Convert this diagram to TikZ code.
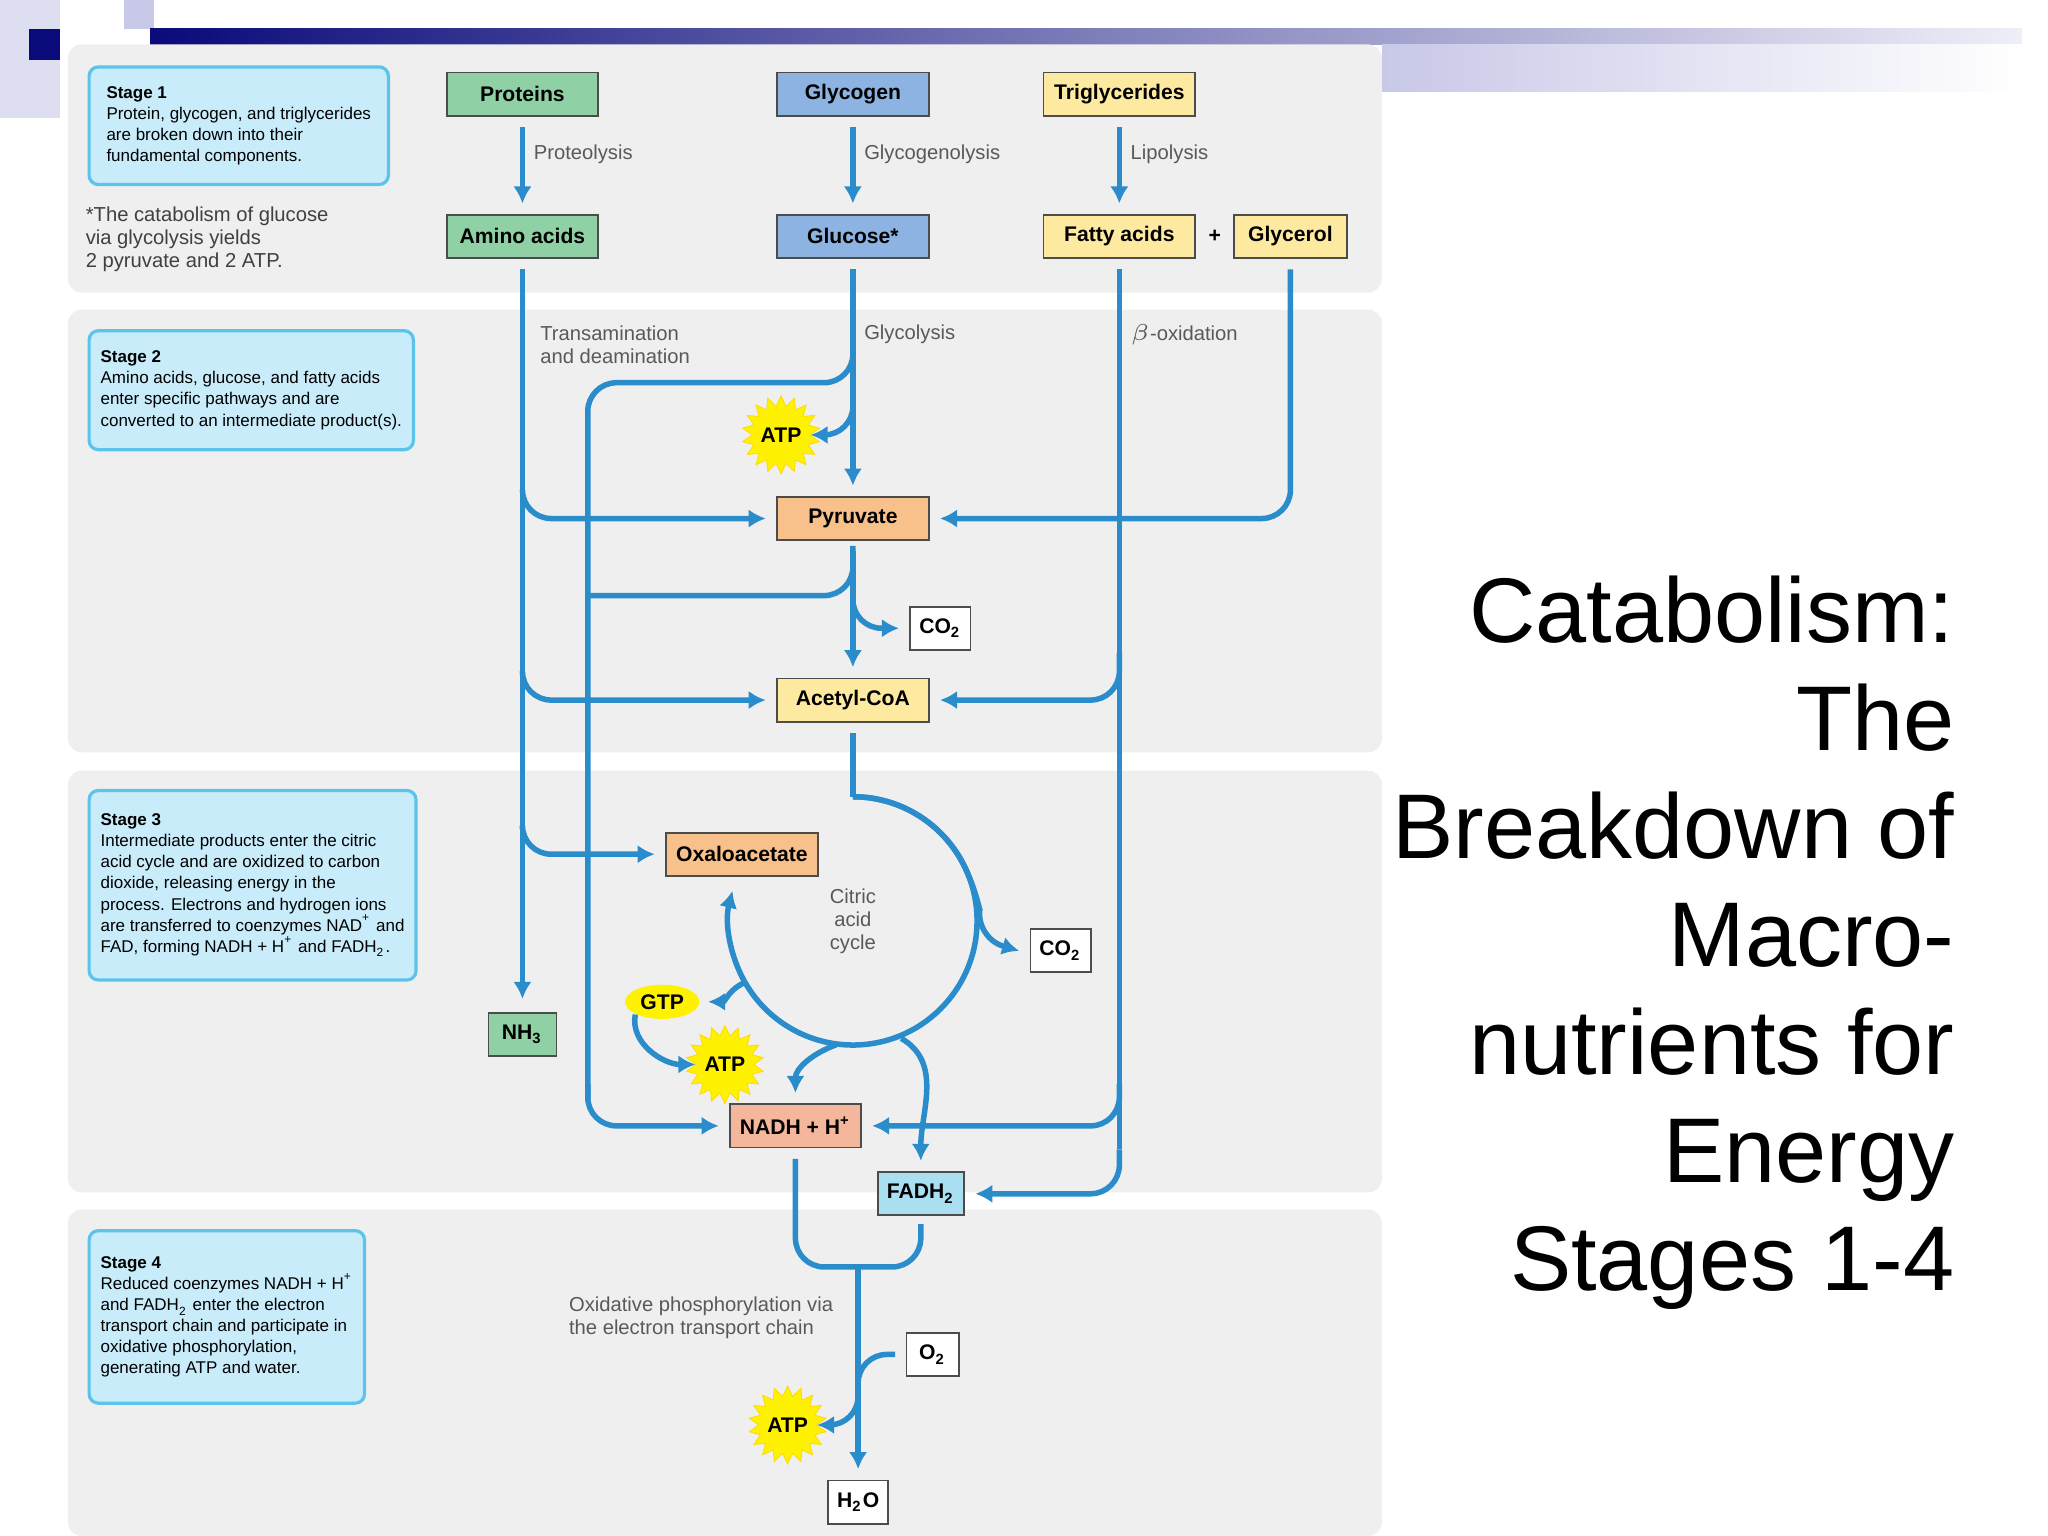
\documentclass[tikz,border=0pt]{standalone}
\usepackage{fontspec}
\setmainfont{Liberation Sans}
\usetikzlibrary{positioning, arrows.meta, shapes.geometric}
\definecolor{flow}{HTML}{2A8CCB}
\definecolor{panel}{HTML}{EFEFEF}
\definecolor{stagefill}{HTML}{C9ECFA}
\definecolor{stageline}{HTML}{5CC3EA}
\definecolor{greenbox}{HTML}{8FD1A5}
\definecolor{bluebox}{HTML}{8DB3E2}
\definecolor{yellowbox}{HTML}{FDE9A0}
\definecolor{orangebox}{HTML}{F8C08A}
\definecolor{salmonbox}{HTML}{F4B79B}
\definecolor{cyanbox}{HTML}{A9DFF0}
\definecolor{navy}{HTML}{0A0A7A}
\definecolor{lavender}{HTML}{C8C8E8}

\begin{document}
\begin{tikzpicture}[
		x=0.01cm, y=-0.01cm,
		>={Latex[length=1.3mm,width=1.4mm]}
		]
		\tikzstyle{arr}=[
			->,
			draw=flow,
			line width=1.2pt,
			rounded corners=0.22cm
		]
		\tikzstyle{line}=[
			draw=flow,
			line width=1.2pt,
			rounded corners=0.22cm
		]
		\tikzstyle{mol}=[
			rectangle,
			draw=black!70,
			line width=0.4pt,
			font=\fontsize{4.6}{5}\selectfont\bfseries,
			minimum height=0.33cm,
			inner sep=1pt
		]
		\tikzstyle{stage}=[
			rectangle,
			rounded corners=2pt,
			draw=stageline,
			line width=0.7pt,
			fill=stagefill,
			align=left,
			anchor=north west,
			font=\fontsize{3.7}{4.6}\selectfont,
			inner sep=2.5pt
		]
		\tikzstyle{note}=[
			font=\fontsize{4.4}{5}\selectfont,
			text=black!65,
			align=left,
			anchor=west,
			inner sep=0pt
		]
		\tikzstyle{atp}=[
			star,
			star points=18,
			star point ratio=1.35,
			fill=yellow,
			draw=yellow!80!orange,
			line width=0.2pt,
			minimum size=0.5cm,
			inner sep=0pt,
			font=\fontsize{4.6}{5}\selectfont\bfseries
		]
		\useasboundingbox (0,0) rectangle (1568,1176);
		% Slide decoration
			\fill[lavender!60] (0,0) rectangle (46,90);
			\fill[lavender] (95,0) rectangle (118,22);
			\fill[navy] (22,22) rectangle (46,46);
			\shade[left color=navy, right color=lavender!30] (115,22) rectangle (1548,34);
			\shade[left color=lavender, right color=white] (1058,34) rectangle (1548,70);
		% Panels
			\foreach \top / \bot in {34/224, 237/576, 590/913, 926/1176}
				\fill[panel, rounded corners=3pt] (52,\top) rectangle (1058,\bot);
		% Stage descriptions
			\node[stage, minimum width=2.29cm, minimum height=0.9cm] (S1) at (67,50) {{\bfseries Stage 1}\\Protein, glycogen, and triglycerides\\are broken down into their\\fundamental components.};
			\node[stage, minimum width=2.42cm, minimum height=0.91cm] (S2) at (67,252) {{\bfseries Stage 2}\\Amino acids, glucose, and fatty acids\\enter specific pathways and are\\converted to an intermediate product(s).};
			\node[stage, minimum width=2.39cm, minimum height=1.45cm] (S3) at (67,604) {{\bfseries Stage 3}\\Intermediate products enter the citric\\acid cycle and are oxidized to carbon\\dioxide, releasing energy in the\\process. Electrons and hydrogen ions\\are transferred to coenzymes NAD\textsuperscript{+} and\\FAD, forming NADH + H\textsuperscript{+} and FADH\textsubscript{2}.};
			\node[stage, minimum width=2.06cm, minimum height=1.32cm] (S4) at (67,941) {{\bfseries Stage 4}\\Reduced coenzymes NADH + H\textsuperscript{+}\\and FADH\textsubscript{2} enter the electron\\transport chain and participate in\\oxidative phosphorylation,\\generating ATP and water.};
			\node[note, text=black!75] (star) at (65,183) {*The catabolism of glucose\\ via glycolysis yields\\ 2 pyruvate and 2 ATP.};
		% Molecules
			\node[mol, fill=greenbox, minimum width=1.16cm] (P) at (400,72) {Proteins};
			\node[mol, fill=bluebox, minimum width=1.16cm] (G) at (653,72) {Glycogen};
			\node[mol, fill=yellowbox, minimum width=1.16cm] (T) at (857,72) {Triglycerides};
			\node[mol, fill=greenbox, minimum width=1.16cm] (AA) at (400,181) {Amino acids};
			\node[mol, fill=bluebox, minimum width=1.16cm] (Glu) at (653,181) {Glucose*};
			\node[mol, fill=yellowbox, minimum width=1.16cm] (FA) at (857,181) {Fatty acids};
			\node[font=\fontsize{4.6}{5}\selectfont\bfseries] (plus) at (930,181) {+};
			\node[mol, fill=yellowbox, minimum width=0.86cm] (Gly) at (988,181) {Glycerol};
			\node[mol, fill=orangebox, minimum width=1.16cm] (Pyr) at (653,397) {Pyruvate};
			\node[mol, fill=white, minimum width=0.46cm] (CO2a) at (720,481) {CO\textsubscript{2}};
			\node[mol, fill=yellowbox, minimum width=1.16cm] (Ac) at (653,536) {Acetyl-CoA};
			\node[mol, fill=orangebox, minimum width=1.16cm] (Oxa) at (568,654) {Oxaloacetate};
			\node[mol, fill=white, minimum width=0.46cm] (CO2b) at (812,728) {CO\textsubscript{2}};
			\node[mol, fill=greenbox, minimum width=0.52cm] (NH) at (400,792) {NH\textsubscript{3}};
			\node[ellipse, fill=yellow, inner sep=1pt, minimum width=0.48cm, minimum height=0.26cm, font=\fontsize{4.6}{5}\selectfont\bfseries] (GTP) at (507,767) {GTP};
			\node[mol, fill=salmonbox, minimum width=1.0cm] (NADH) at (609,862) {NADH + H\textsuperscript{+}};
			\node[mol, fill=cyanbox, minimum width=0.66cm] (FADH) at (705,914) {FADH\textsubscript{2}};
			\node[mol, fill=white, minimum width=0.4cm] (O2) at (714,1037) {O\textsubscript{2}};
			\node[mol, fill=white, minimum width=0.46cm] (H2O) at (657,1150) {H\textsubscript{2}O};
			\node[atp] (ATPa) at (598,333) {ATP};
			\node[atp] (ATPb) at (555,815) {ATP};
			\node[atp] (ATPc) at (603,1091) {ATP};
		% Stage 1 arrows
			\foreach \top / \bot / \lab in {P/AA/Proteolysis, G/Glu/Glycogenolysis, T/FA/Lipolysis}
			{
				\draw[arr] ([yshift=-0.08cm]\top.south) -- ([yshift=0.08cm]\bot.north);
				\node[note] at ([xshift=0.08cm, yshift=0.46cm]\bot.north) {\lab};
			}
		% Stage 2 arrows
			\node[note] (trans) at (413,264) {Transamination\\and deamination};
			\node[note] (glyc) at (661,256) {Glycolysis};
			\node[note] (beta) at (865,256) {$\beta$-oxidation};
			\draw[arr] ([yshift=-0.08cm]AA.south) -- ([yshift=0.1cm]NH.north);
			\draw[arr] (400,375) |- ([xshift=-0.08cm]Pyr.west);
			\draw[arr] (400,515) |- ([xshift=-0.08cm]Ac.west);
			\draw[arr] (400,635) |- ([xshift=-0.08cm]Oxa.west);
			\draw[arr] ([yshift=-0.08cm]Glu.south) -- ([yshift=0.08cm]Pyr.north);
			\draw[arr] (653,300) |- (ATPa.east);
			\draw[line] (653,270) |- (450,293) -- (450,842);
			\draw[arr] (450,830) |- ([xshift=-0.08cm]NADH.west);
			\draw[line] ([yshift=-0.08cm]Pyr.south) -- (653,440) |- (450,456);
			\draw[arr] ([yshift=-0.08cm]Pyr.south) -- ([yshift=0.08cm]Ac.north);
			\draw[arr] (653,460) |- ([xshift=-0.08cm]CO2a.west);
			\draw[arr] ([yshift=-0.08cm]Gly.south) |- ([xshift=0.08cm]Pyr.east);
			\draw[line] ([yshift=-0.08cm]FA.south) -- (857,880);
			\draw[arr] (857,500) |- ([xshift=0.08cm]Ac.east);
			\draw[arr] (857,830) |- ([xshift=0.08cm]NADH.east);
			\draw[arr] (857,880) |- ([xshift=0.08cm]FADH.east);
		% Citric acid cycle
			\coordinate (C) at (653,705);
			\draw[line] ([yshift=-0.08cm]Ac.south) -- (653,610);
			\draw[arr] (653,610) arc[start angle=90, end angle=-8, radius=0.95cm] -- ([xshift=-0.08cm]CO2b.west);
			\draw[arr] (653,610) arc[start angle=90, end angle=-194, radius=0.95cm];
			\draw[arr] (571,752) to[out=200, in=0] ([xshift=0.06cm]GTP.east);
			\draw[arr] (GTP.south west) to[out=-100, in=180] (ATPb.west);
			\draw[arr] (640,800) to[out=200, in=90] ([yshift=0.08cm]NADH.north);
			\draw[arr] (690,795) to[out=-30, in=90] ([yshift=0.08cm]FADH.north);
			\node[font=\fontsize{4.4}{5}\selectfont, text=black!65, align=center] (cycle) at (C) {Citric\\acid\\cycle};
		% Stage 4 arrows
			\draw[line] ([yshift=-0.08cm]NADH.south) |- (705,970) -- ([yshift=-0.06cm]FADH.south);
			\draw[arr] (657,970) -- ([yshift=0.08cm]H2O.north);
			\draw[line] ([xshift=-0.08cm]O2.west) -| (657,1075);
			\draw[arr] (657,1060) |- (ATPc.east);
			\node[note] (oxphos) at (435,1009) {Oxidative phosphorylation via\\the electron transport chain};
		% Title
			\node[anchor=east, align=right, font=\fontsize{20}{23.5}\selectfont, inner sep=0pt] (title) at (1497,722) {Catabolism:\\The\\Breakdown of\\Macro-\\nutrients for\\Energy\hspace{0.25cm}\\Stages 1-4};
	\end{tikzpicture}
\end{document}
